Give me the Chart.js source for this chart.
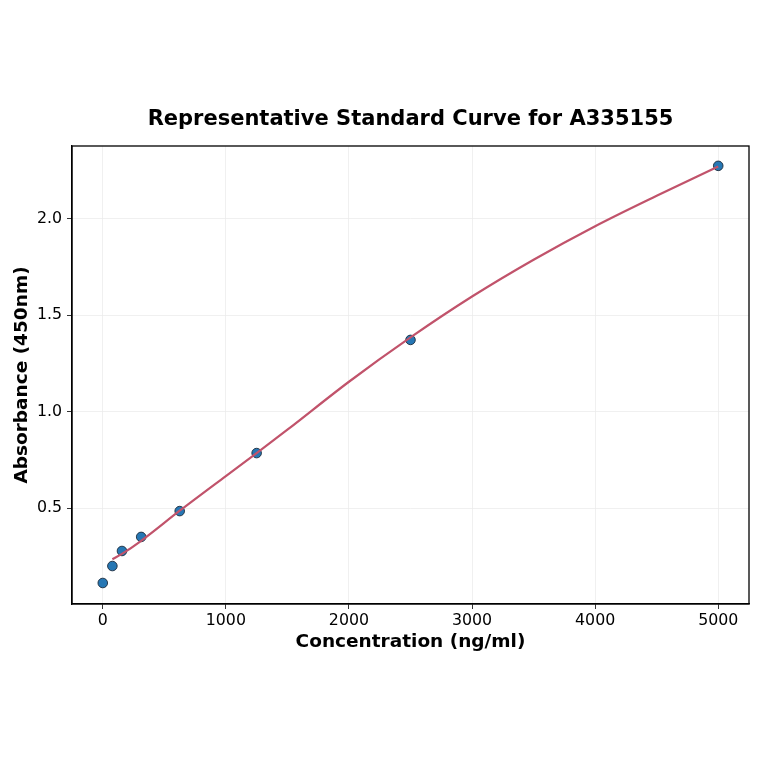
<!DOCTYPE html>
<html>
<head>
<meta charset="utf-8">
<title>Representative Standard Curve for A335155</title>
<script src="https://cdn.jsdelivr.net/npm/chart.js"></script>
<style>
  html, body { margin: 0; padding: 0; background: #fff; }
  #wrap { width: 764px; height: 764px; }
</style>
</head>
<body>
<div id="wrap"><canvas id="curveChart" width="764" height="764"></canvas></div>
<script>
// measured standards
const conc = [0, 78, 156, 312, 625, 1250, 2500, 5000];
const absorb = [0.111, 0.199, 0.277, 0.350, 0.484, 0.785, 1.372, 2.275];

// fitted curve
const fitConc = [78, 156, 312, 625, 1000, 1250, 1500, 2000, 2500, 3000, 3500, 4000, 4500, 5000];
const fitAbs = [0.234, 0.262, 0.330, 0.486, 0.666, 0.785, 0.906, 1.155, 1.385, 1.597, 1.788, 1.962, 2.120, 2.272];

const xTicks = [0, 1000, 2000, 3000, 4000, 5000];
const yTicks = [0.5, 1.0, 1.5, 2.0];

const font = "'DejaVu Sans', 'Liberation Sans', sans-serif";

// matplotlib-style box round the plot area
const frame = {
    id: 'frame',
    afterDraw(chart) {
        const a = chart.chartArea;
        const ctx = chart.ctx;
        ctx.save();
        ctx.strokeStyle = '#000';
        ctx.lineWidth = 1.3;
        ctx.strokeRect(a.left, a.top, a.right - a.left, a.bottom - a.top);
        ctx.restore();
    }
};

const ctx = document.getElementById('curveChart').getContext('2d');
new Chart(ctx, {
    type: 'scatter',
    data: {
        datasets: [
            {
                label: 'Fit',
                type: 'line',
                data: fitConc.map((x, i) => ({ x: x, y: fitAbs[i] })),
                borderColor: '#c1536b',
                borderWidth: 2.2,
                pointRadius: 0,
                fill: false,
                cubicInterpolationMode: 'monotone',
                order: 0
            },
            {
                label: 'Standards',
                data: conc.map((x, i) => ({ x: x, y: absorb[i] })),
                backgroundColor: '#2677b4',
                borderColor: '#1c2b3c',
                borderWidth: 0.9,
                pointRadius: 4.8,
                order: 1
            }
        ]
    },
    options: {
        responsive: false,
        animation: false,
        layout: { padding: { left: 0, right: 15, top: 100, bottom: 111 } },
        plugins: {
            legend: { display: false },
            tooltip: { enabled: false },
            title: {
                display: true,
                text: 'Representative Standard Curve for A335155',
                color: '#000',
                fullSize: false,
                font: { family: font, size: 21, weight: 'bold' },
                padding: { top: 7.4, bottom: 13.4 }
            }
        },
        scales: {
            x: {
                type: 'linear',
                min: -250,
                max: 5250,
                afterBuildTicks: s => { s.ticks = xTicks.map(v => ({ value: v })); },
                afterFit: s => { s.height = 49; },
                grid: { color: '#ececec', lineWidth: 0.8, tickColor: '#000', tickLength: 5 },
                border: { color: '#000', width: 1.3 },
                ticks: {
                    color: '#000',
                    font: { family: font, size: 15.8 },
                    padding: 2,
                    maxRotation: 0,
                    callback: v => String(v)
                },
                title: {
                    display: true,
                    text: 'Concentration (ng/ml)',
                    color: '#000',
                    font: { family: font, size: 18.5, weight: 'bold' },
                    padding: { top: 0, bottom: 0 }
                }
            },
            y: {
                type: 'linear',
                min: 0.002,
                max: 2.378,
                afterBuildTicks: s => { s.ticks = yTicks.map(v => ({ value: v })); },
                afterFit: s => { s.width = 72; },
                grid: { color: '#ececec', lineWidth: 0.8, tickColor: '#000', tickLength: 5 },
                border: { color: '#000', width: 1.3 },
                ticks: {
                    color: '#000',
                    font: { family: font, size: 15.8 },
                    padding: 5,
                    callback: v => v.toFixed(1)
                },
                title: {
                    display: true,
                    text: 'Absorbance (450nm)',
                    color: '#000',
                    font: { family: font, size: 18.5, weight: 'bold' },
                    padding: { top: 11, bottom: 0 }
                }
            }
        }
    },
    plugins: [frame]
});
</script>
</body>
</html>
